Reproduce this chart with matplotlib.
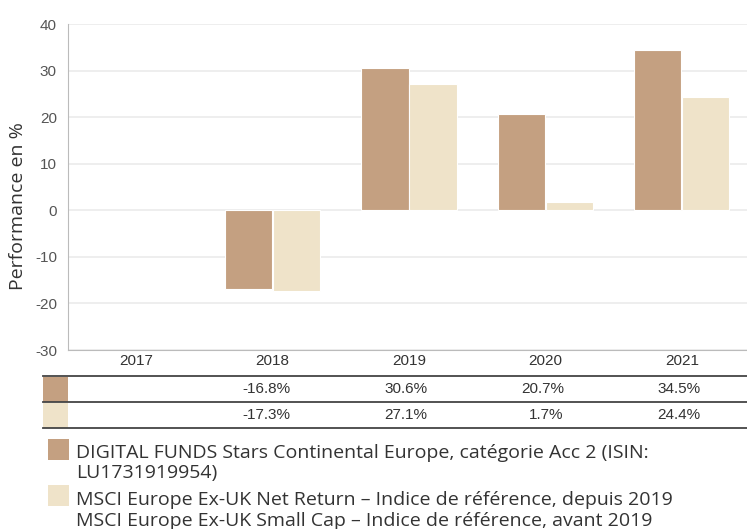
import matplotlib
matplotlib.use("Agg")
import matplotlib.pyplot as plt
from matplotlib.patches import Rectangle
from matplotlib.lines import Line2D
import numpy as np

plt.rcParams["font.family"] = ["Liberation Sans", "DejaVu Sans"]
plt.rcParams["axes.unicode_minus"] = False

years = ["2017", "2018", "2019", "2020", "2021"]
fund = [np.nan, -16.8, 30.6, 20.7, 34.5]
index = [np.nan, -17.3, 27.1, 1.7, 24.4]
fund_labels = ["", "-16.8%", "30.6%", "20.7%", "34.5%"]
index_labels = ["", "-17.3%", "27.1%", "1.7%", "24.4%"]
legend_fund = ["DIGITAL FUNDS Stars Continental Europe, catégorie Acc 2 (ISIN:", "LU1731919954)"]
legend_index = ["MSCI Europe Ex-UK Net Return – Indice de référence, depuis 2019",
                "MSCI Europe Ex-UK Small Cap – Indice de référence, avant 2019"]

c_fund = "#C4A081"
c_index = "#EFE3C9"

W, H = 747, 529
fig = plt.figure(figsize=(W / 100, H / 100), dpi=100)

def fx(px):
    return px / W

def fy(py):
    return 1 - py / H

ax = fig.add_axes([fx(68), fy(350), fx(750) - fx(68), fy(24) - fy(350)])
x = np.arange(len(years))
w = 0.345
ax.bar(x - 0.176, fund, w, color=c_fund, edgecolor="white", linewidth=0.8, zorder=3)
ax.bar(x + 0.176, index, w, color=c_index, edgecolor="white", linewidth=0.8, zorder=3)

ax.set_xlim(-0.5, 4.5)
ax.set_ylim(-30, 40)
ax.set_yticks(range(-30, 41, 10))
ax.yaxis.grid(True, color="#EBEBEB", linewidth=1.2, zorder=0)
ax.set_axisbelow(True)
for s in ["top", "right"]:
    ax.spines[s].set_visible(False)
ax.spines["left"].set_color("#BBBBBB")
ax.spines["bottom"].set_color("#BBBBBB")
ax.tick_params(axis="y", length=0, labelsize=11, labelcolor="#555555", pad=8)
ax.tick_params(axis="x", length=0, labelsize=11, labelcolor="#333333", pad=3)
ax.set_xticks(x)
ax.set_xticklabels(years)

# y label, placed in figure pixels
fig.text(fx(18), fy(206), "Performance en %", rotation=90, ha="center", va="center",
         fontsize=14, color="#333333", family=["Open Sans", "DejaVu Sans"])

# table under the chart
for py in [376, 402, 428]:
    fig.add_artist(Line2D([fx(43), fx(747)], [fy(py), fy(py)], color="#444444", linewidth=1.3))
fig.add_artist(Rectangle((fx(43), fy(402)), fx(68) - fx(43), fy(377) - fy(402), color=c_fund, lw=0))
fig.add_artist(Rectangle((fx(43), fy(428)), fx(68) - fx(43), fy(403) - fy(428), color=c_index, lw=0))
for i in range(len(years)):
    cx = 68 + 136.5 * (i + 0.5) + 18
    fig.text(fx(cx), fy(389), fund_labels[i], ha="right", va="center", fontsize=11, color="#333333")
    fig.text(fx(cx), fy(415), index_labels[i], ha="right", va="center", fontsize=11, color="#333333")

# legend
fig.add_artist(Rectangle((fx(48), fy(460)), fx(69) - fx(48), fy(439) - fy(460), color=c_fund, lw=0))
fig.add_artist(Rectangle((fx(48), fy(506)), fx(69) - fx(48), fy(485) - fy(506), color=c_index, lw=0))
lfont = dict(fontsize=14, color="#333333", ha="left", va="baseline", family=["Open Sans", "DejaVu Sans"])
fig.text(fx(76), fy(458), legend_fund[0], **lfont)
fig.text(fx(76), fy(478), legend_fund[1], **lfont)
fig.text(fx(76), fy(505), legend_index[0], **lfont)
fig.text(fx(76), fy(526), legend_index[1], **lfont)

fig.savefig("out.png", dpi=100)
